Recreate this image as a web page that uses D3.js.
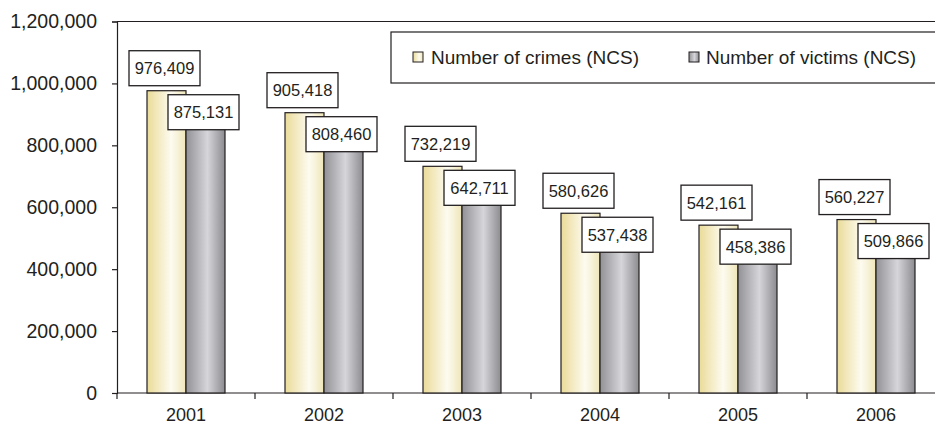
<!DOCTYPE html>
<html><head><meta charset="utf-8">
<script src="https://cdn.jsdelivr.net/npm/d3@7"></script>
<style>
body{margin:0;background:#fff;}
svg{display:block;font-family:"Liberation Sans",Arial,sans-serif;}
</style></head>
<body><svg id="c" width="935" height="430"></svg>
<script>
const years = ["2001","2002","2003","2004","2005","2006"];
const crimes = [976409, 905418, 732219, 580626, 542161, 560227];
const victims = [875131, 808460, 642711, 537438, 458386, 509866];
const seriesNames = ["Number of crimes (NCS)", "Number of victims (NCS)"];
const yTicks = [0, 200000, 400000, 600000, 800000, 1000000, 1200000];

(function(){
const svg = d3.select("#c");
const left = 117, plotTop = 21.5, bottom = 393, bandW = 138;
const x = d3.scaleBand().domain(years).range([left, left + bandW * years.length]).padding(0);
const y = d3.scaleLinear().domain([0, 1200000]).range([bottom, plotTop]);
const fmt = d3.format(",");
const ink = "#231f20";

const defs = svg.append("defs");
const g1 = defs.append("linearGradient").attr("id","gy").attr("x1","0").attr("x2","1").attr("y1","0").attr("y2","0");
[["0%","#eadb98"],["62%","#fdfbf0"],["100%","#efe5b8"]].forEach(s=>g1.append("stop").attr("offset",s[0]).attr("stop-color",s[1]));
const g2 = defs.append("linearGradient").attr("id","gg").attr("x1","0").attr("x2","1").attr("y1","0").attr("y2","0");
[["0%","#919196"],["55%","#d6d6da"],["100%","#8c8c90"]].forEach(s=>g2.append("stop").attr("offset",s[0]).attr("stop-color",s[1]));

// frame top line
svg.append("line").attr("x1",left).attr("x2",935).attr("y1",plotTop).attr("y2",plotTop).attr("stroke",ink).attr("stroke-width",1.2);

// y axis
const yAxis = svg.append("g").attr("transform",`translate(${left},0)`)
  .call(d3.axisLeft(y).tickValues(yTicks).tickFormat(fmt).tickSize(5).tickPadding(15));
yAxis.select(".domain").attr("stroke",ink).attr("stroke-width",1.2);
yAxis.selectAll(".tick line").attr("stroke",ink).attr("stroke-width",1.2);
yAxis.selectAll("text").attr("font-size","19.5px").attr("fill",ink).attr("font-family","Liberation Sans, Arial, sans-serif");

// x axis
svg.append("line").attr("x1",left).attr("x2",935).attr("y1",bottom).attr("y2",bottom).attr("stroke",ink).attr("stroke-width",1.2);
const xt = svg.append("g");
years.forEach((yr)=>{
  const xb = x(yr);
  xt.append("line").attr("x1",xb).attr("x2",xb).attr("y1",bottom).attr("y2",bottom+6).attr("stroke",ink).attr("stroke-width",1.2);
});
xt.selectAll("text.yr").data(years).enter().append("text")
  .attr("x",d=>x(d)+bandW/2).attr("y",421).attr("text-anchor","middle")
  .attr("font-size","18px").attr("fill",ink).text(d=>d);

const bw = 39;
const data = years.map((yr,i)=>({yr, c:crimes[i], v:victims[i]}));

// bars
const bars = svg.append("g");
bars.selectAll("rect.c").data(data).enter().append("rect")
  .attr("x",d=>x(d.yr)+bandW/2-bw).attr("y",d=>y(d.c)).attr("width",bw).attr("height",d=>bottom-y(d.c))
  .attr("fill","url(#gy)").attr("stroke",ink).attr("stroke-width",1.2);
bars.selectAll("rect.v").data(data).enter().append("rect")
  .attr("x",d=>x(d.yr)+bandW/2).attr("y",d=>y(d.v)).attr("width",bw).attr("height",d=>bottom-y(d.v))
  .attr("fill","url(#gg)").attr("stroke",ink).attr("stroke-width",1.2);

// labels
const lw = 71, lh = 35;
function label(cx, ytop, val){
  const g = svg.append("g");
  g.append("rect").attr("x",cx-lw/2).attr("y",ytop).attr("width",lw).attr("height",lh)
    .attr("fill","#fff").attr("stroke",ink).attr("stroke-width",1.3);
  g.append("text").attr("x",cx).attr("y",ytop+lh/2+6).attr("text-anchor","middle")
    .attr("font-size","16.5px").attr("fill",ink).text(fmt(val));
}
data.forEach(d=>{
  const cTop = y(d.c);
  label(x(d.yr)+bandW/2-bw/2-2, cTop-5-lh, d.c);
  label(x(d.yr)+bandW/2+bw/2-2, cTop+4, d.v);
});

// legend
const lg = svg.append("g");
lg.append("rect").attr("x",391).attr("y",32).attr("width",560).attr("height",51)
  .attr("fill","#fff").attr("stroke",ink).attr("stroke-width",1.2);
const legItems = [{n:seriesNames[0], f:"url(#gy)", sx:413, tx:431},{n:seriesNames[1], f:"url(#gg)", sx:689, tx:706}];
legItems.forEach(it=>{
  lg.append("rect").attr("x",it.sx).attr("y",52).attr("width",10).attr("height",10).attr("fill",it.f).attr("stroke",ink).attr("stroke-width",1);
  lg.append("text").attr("x",it.tx).attr("y",64).attr("font-size","19px").attr("fill",ink).text(it.n);
});
})();
</script></body></html>
